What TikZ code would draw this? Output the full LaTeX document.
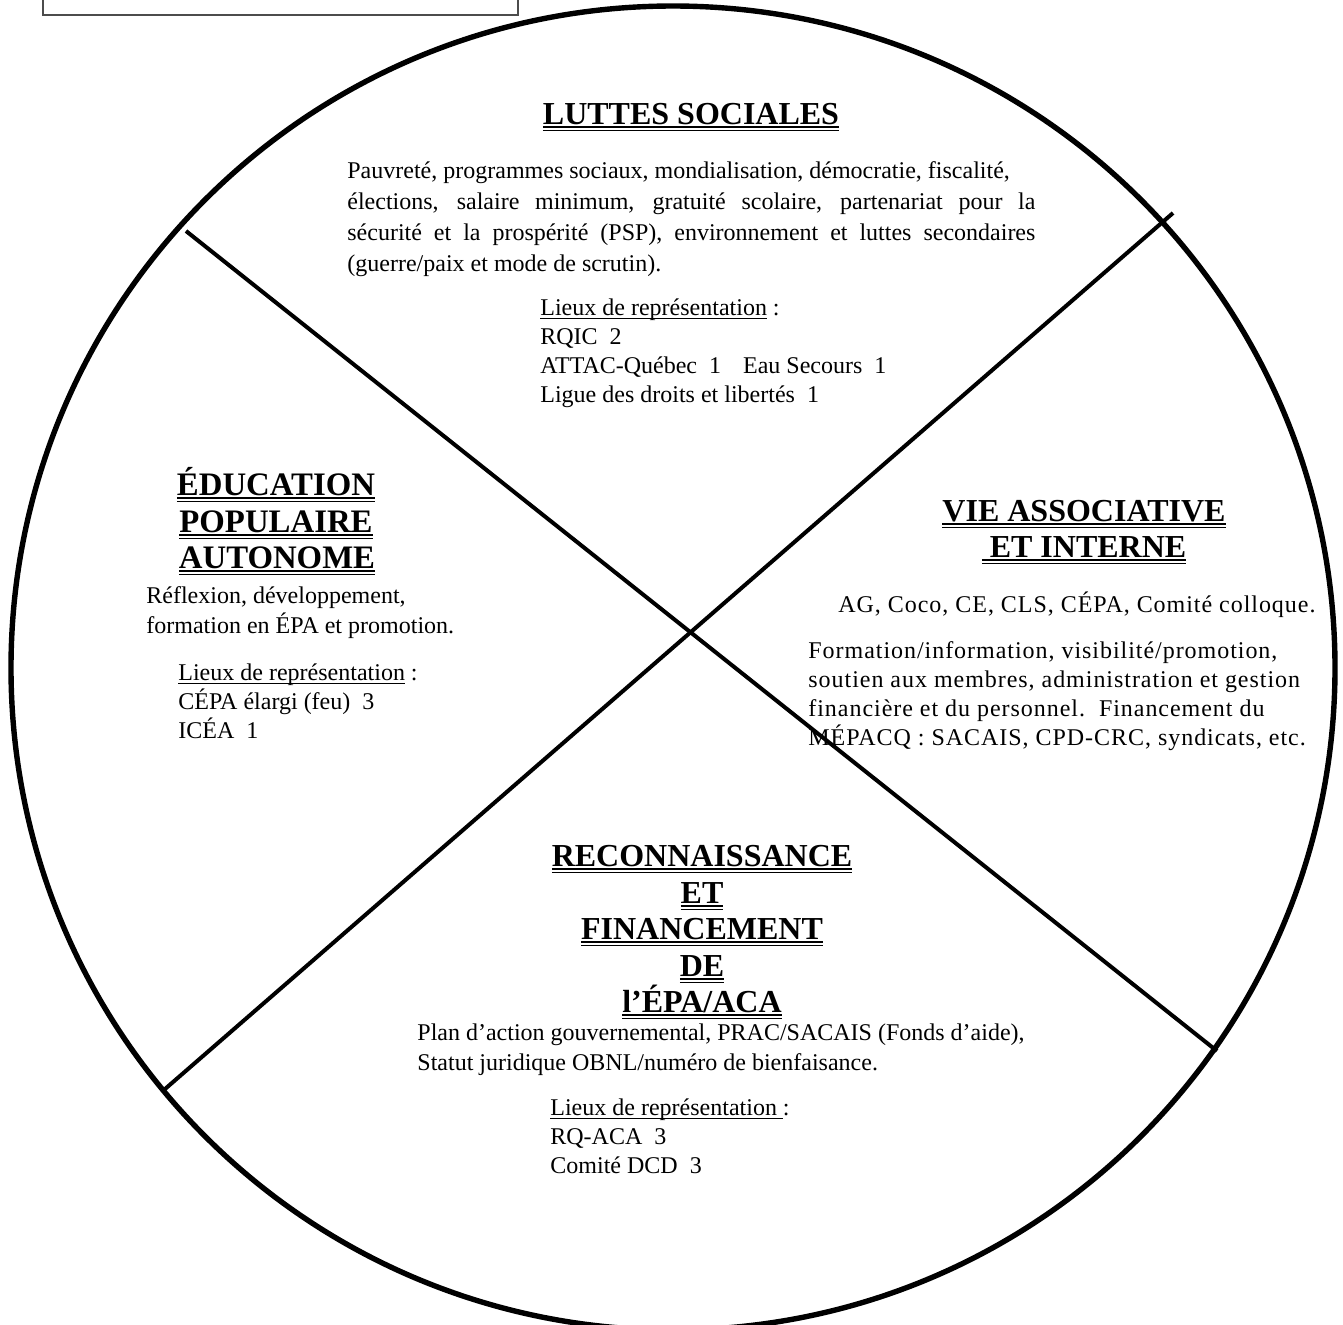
\documentclass[tikz,border=0pt]{standalone}
\usepackage{fontspec}
\setmainfont{Liberation Serif}
\newsavebox\myulbx
\newcommand\dul[1]{\sbox\myulbx{#1}\rlap{\rule[-2.2pt]{\wd\myulbx}{1pt}}\rlap{\rule[-3.5pt]{\wd\myulbx}{0.5pt}}\usebox\myulbx}
\newcommand\sul[1]{\sbox\myulbx{#1}\rlap{\rule[-1.8pt]{\wd\myulbx}{0.5pt}}\usebox\myulbx}
\tikzset{
 body/.style={inner sep=0pt, anchor=base west, font=\fontsize{12}{14}\selectfont},
 wide/.style={body, font=\fontsize{12}{14}\selectfont\addfontfeature{LetterSpace=4.0}},
 head/.style={inner sep=0pt, anchor=base, font=\fontsize{16}{18}\selectfont\bfseries},
 rim/.style={line width=2.7pt},
 divider/.style={line width=2pt},
 frame/.style={draw=black!70, line width=0.8pt}
}
\begin{document}
\begin{tikzpicture}[x=0.5pt,y=-0.5pt]
\useasboundingbox (0,0) rectangle (1343,1324);
\clip (0,0) rectangle (1343,1324);
\fill[white] (0,0) rectangle (1343,1324);
\draw[frame] (43,-20) rectangle (518,15);
\coordinate (O) at (673,668);
\draw[rim] (O) circle [radius=331pt];
\coordinate (a1) at (186,231);
\coordinate (a2) at (1217,1051);
\coordinate (b1) at (1173,213);
\coordinate (b2) at (165,1089);
\draw[divider] (a1) -- (a2);
\draw[divider] (b1) -- (b2);
% top
\node[head] (t1) at (691,124) {\dul{LUTTES SOCIALES}};
\node[body] (p1) at (347,178) {Pauvreté, programmes sociaux, mondialisation, démocratie, fiscalité,};
\node[body] (p2) at (347,209) {\makebox[344pt][s]{élections, salaire minimum, gratuité scolaire, partenariat pour la}};
\node[body] (p3) at (347,240) {\makebox[344pt][s]{sécurité et la prospérité (PSP), environnement et luttes secondaires}};
\node[body] (p4) at (347,271) {(guerre/paix et mode de scrutin).};
\node[body] (l1) at (540,315) {\sul{Lieux de représentation} :};
\node[body] (l2) at (540,344) {RQIC\ \ 2};
\node[body] (l3) at (540,373) {ATTAC-Québec\ \ 1\hspace{11pt}Eau Secours\ \ 1};
\node[body] (l4) at (540,402) {Ligue des droits et libertés\ \ 1};
% left
\node[head, font=\fontsize{16.4}{18}\selectfont\bfseries] (e1) at (276,495) {\dul{ÉDUCATION}};
\node[head, font=\fontsize{16.4}{18}\selectfont\bfseries] (e2) at (276,532) {\dul{POPULAIRE}};
\node[head, font=\fontsize{16.4}{18}\selectfont\bfseries] (e3) at (277,568) {\dul{AUTONOME}};
\node[body] (e4) at (146,603) {Réflexion, développement,};
\node[body] (e5) at (146,633) {formation en ÉPA et promotion.};
\node[body] (e6) at (178,680) {\sul{Lieux de représentation} :};
\node[body] (e7) at (178,709) {CÉPA élargi (feu)\ \ 3};
\node[body] (e8) at (178,738) {ICÉA\ \ 1};
% right
\node[head] (v1) at (1084,521) {\dul{VIE ASSOCIATIVE}};
\node[head] (v2) at (1084,557) {\dul{\ ET INTERNE}};
\node[wide] (v3) at (838,612) {AG, Coco, CE, CLS, CÉPA, Comité colloque.};
\node[wide] (v4) at (808,658) {Formation/information, visibilité/promotion,};
\node[wide] (v5) at (808,687) {soutien aux membres, administration et gestion};
\node[wide] (v6) at (808,716) {financière et du personnel.\ \ Financement du};
\node[wide] (v7) at (808,745) {MÉPACQ : SACAIS, CPD-CRC, syndicats, etc.};
% bottom
\node[head] (r1) at (702,866) {\dul{RECONNAISSANCE}};
\node[head] (r2) at (702,903) {\dul{ET}};
\node[head] (r3) at (702,939) {\dul{FINANCEMENT}};
\node[head] (r4) at (702,976) {\dul{DE}};
\node[head] (r5) at (702,1012) {\dul{l’ÉPA/ACA}};
\node[body] (r6) at (417,1040) {Plan d’action gouvernemental, PRAC/SACAIS (Fonds d’aide),};
\node[body] (r7) at (417,1070) {Statut juridique OBNL/numéro de bienfaisance.};
\node[body] (r8) at (550,1115) {\sul{Lieux de représentation\ }:};
\node[body] (r9) at (550,1144) {RQ-ACA\ \ 3};
\node[body] (r10) at (550,1173) {Comité DCD\ \ 3};
\end{tikzpicture}
\end{document}
